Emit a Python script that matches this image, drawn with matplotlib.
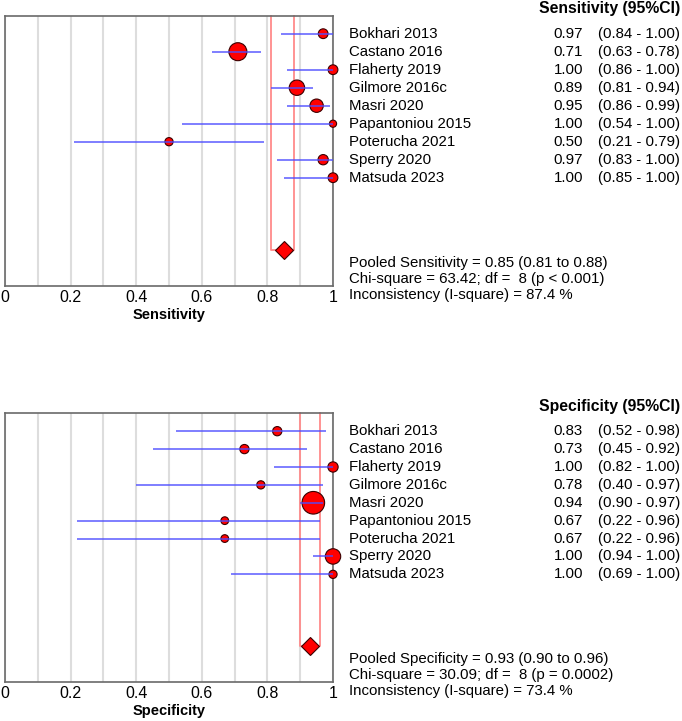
import matplotlib
matplotlib.use("Agg")
import matplotlib.pyplot as plt
import numpy as np
from matplotlib.transforms import blended_transform_factory

plt.rcParams['font.family'] = ['Liberation Sans', 'DejaVu Sans']

studies = ["Bokhari 2013", "Castano 2016", "Flaherty 2019", "Gilmore 2016c",
           "Masri 2020", "Papantoniou 2015", "Poterucha 2021", "Sperry 2020",
           "Matsuda 2023"]

sens = [0.97, 0.71, 1.00, 0.89, 0.95, 1.00, 0.50, 0.97, 1.00]
sens_lo = [0.84, 0.63, 0.86, 0.81, 0.86, 0.54, 0.21, 0.83, 0.85]
sens_hi = [1.00, 0.78, 1.00, 0.94, 0.99, 1.00, 0.79, 1.00, 1.00]
sens_weight = [9.5, 17.5, 9.5, 15, 13, 7, 8, 10, 9.5]
sens_pooled = [0.85, 0.81, 0.88]
sens_stats = ["Pooled Sensitivity = 0.85 (0.81 to 0.88)",
              "Chi-square = 63.42; df =  8 (p < 0.001)",
              "Inconsistency (I-square) = 87.4 %"]

spec = [0.83, 0.73, 1.00, 0.78, 0.94, 0.67, 0.67, 1.00, 1.00]
spec_lo = [0.52, 0.45, 0.82, 0.40, 0.90, 0.22, 0.22, 0.94, 0.69]
spec_hi = [0.98, 0.92, 1.00, 0.97, 0.97, 0.96, 0.96, 1.00, 1.00]
spec_weight = [9, 9, 10, 8, 22, 7.5, 7.5, 15, 8]
spec_pooled = [0.93, 0.90, 0.96]
spec_stats = ["Pooled Specificity = 0.93 (0.90 to 0.96)",
              "Chi-square = 30.09; df =  8 (p = 0.0002)",
              "Inconsistency (I-square) = 73.4 %"]

tick_vals = [0, 0.2, 0.4, 0.6, 0.8, 1.0]
tick_labels = ["0", "0.2", "0.4", "0.6", "0.8", "1"]

W, H = 682, 721
fig = plt.figure(figsize=(W / 100, H / 100), dpi=100)

BODY = 10.8
def panel(top_px, bottom_px, est, lo, hi, weight, pooled, stats, name, header):
    ax = fig.add_axes([5 / W, 1 - bottom_px / H, 328 / W, (bottom_px - top_px) / H])
    ax.set_xlim(0, 1)
    ax.set_ylim(14, -1)
    ax.set_yticks([])
    ax.set_xticks(tick_vals)
    ax.set_xticklabels(tick_labels, fontsize=11.5)
    ax.set_xticks(np.arange(1, 10) / 10, minor=True)
    ax.tick_params(axis='x', which='both', length=0, pad=3)
    ax.grid(True, axis='x', which='both', color='#dddddd', lw=1.5, zorder=0)
    ax.set_axisbelow(True)
    for s in ax.spines.values():
        s.set_color('#6a6a6a')
        s.set_linewidth(1.2)
    ax.set_xlabel(name, fontsize=10.5, fontweight='bold', labelpad=2)

    y = np.arange(len(est))
    ax.scatter(est, y, s=(np.array(weight) * 0.74) ** 2, color='#ff0000',
               edgecolor='#3a0000', linewidth=0.8, zorder=3, clip_on=False)
    ax.hlines(y, lo, hi, color='#4d4dff', lw=1.2, alpha=0.85, zorder=4)

    py = 12
    ax.plot([pooled[1], pooled[1], pooled[2], pooled[2]], [-1, py, py, -1],
            color='#ff8a8a', lw=1.3, zorder=2, clip_on=False)
    ax.plot([pooled[0]], [py], marker='D', ms=9, color='#ff0000',
            mec='#3a0000', mew=0.8, zorder=5)

    tr = blended_transform_factory(fig.transFigure, ax.transData)
    for i, st in enumerate(studies):
        ax.text(349 / W, i, st, transform=tr, ha='left', va='center',
                fontsize=BODY, clip_on=False)
        ax.text(583 / W, i, f"{est[i]:.2f}", transform=tr, ha='right',
                va='center', fontsize=BODY, clip_on=False)
        ax.text(598 / W, i, f"({lo[i]:.2f} - {hi[i]:.2f})", transform=tr,
                ha='left', va='center', fontsize=BODY, clip_on=False)
    ax.text(680 / W, -1.4, header, transform=tr, ha='right', va='center',
            fontsize=11.3, fontweight='bold', clip_on=False)
    for k, line in enumerate(stats):
        ax.text(349 / W, 12.72 + 0.9 * k, line, transform=tr, ha='left',
                va='center', fontsize=BODY, clip_on=False)
    return ax

panel(15.7, 285.7, sens, sens_lo, sens_hi, sens_weight, sens_pooled,
      sens_stats, "Sensitivity", "Sensitivity (95%CI)")
panel(413.3, 681.7, spec, spec_lo, spec_hi, spec_weight, spec_pooled,
      spec_stats, "Specificity", "Specificity (95%CI)")

fig.savefig("out.png", dpi=100)
